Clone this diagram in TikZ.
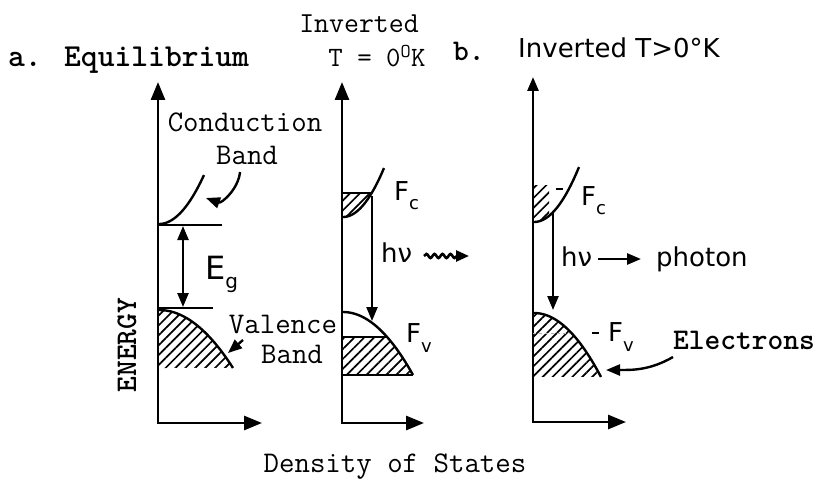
\documentclass[tikz,border=0pt]{standalone}
\usepackage{fontspec}
\newfontfamily\handfont{DejaVu Sans}
\usetikzlibrary{arrows.meta,patterns.meta,decorations.pathmorphing}
\begin{document}
\begin{tikzpicture}[x=1pt,y=-1pt,
  ax/.style={line width=2.8pt, arrows={Triangle[length=18pt,width=14pt]-Triangle[length=18pt,width=14pt]}},
  ln/.style={line width=2.4pt},
  thin/.style={line width=1.6pt},
  tip/.style={-{Triangle[length=14pt,width=11pt]}},
  dtip/.style={{Triangle[length=14pt,width=11pt]}-{Triangle[length=14pt,width=11pt]}},
  tw/.style={font=\ttfamily\fontsize{30}{32}\selectfont, inner sep=0pt},
  twb/.style={font=\ttfamily\bfseries\fontsize{30}{32}\selectfont, inner sep=0pt},
  hw/.style={font=\handfont\fontsize{26}{28}\selectfont, inner sep=0pt},
  hatch/.style={pattern={Lines[angle=45,distance=7pt,line width=1.7pt]}},
]
\useasboundingbox (0,0) rectangle (818,484);

% ---------- titles ----------
\node[twb, anchor=base west, font=\ttfamily\bfseries\fontsize{32}{34}\selectfont] (ta) at (8,67) {a. Equilibrium};
\node[tw, anchor=base, font=\ttfamily\fontsize{29}{30}\selectfont] (tinv) at (359,33) {Inverted};
\node[tw, anchor=base, font=\ttfamily\fontsize{28}{30}\selectfont] (tzero) at (377,67) {T = 0\textsuperscript{O}K};
\node[twb, anchor=base west] (tb) at (453,61) {b.};
\node[hw, anchor=base west] (tbt) at (518,58) {Inverted T>0°K};

% ---------- panel 1 : equilibrium ----------
\coordinate (t1) at (158,82);
\coordinate (o1) at (158,423);
\coordinate (r1) at (262,423);
\draw[ax] (t1) -- (o1) -- (r1);

\draw[ln] (159,224) plot[domain=0:1,samples=30,variable=\t] ({159+45*\t},{224-49*\t*\t});
\coordinate (ec1a) at (158,225);
\coordinate (ec1b) at (222,225);
\draw[ln] (ec1a) -- (ec1b);
\coordinate (ev1a) at (158,308);
\coordinate (ev1b) at (213,308);
\draw[ln] (ev1a) -- (ev1b);
\coordinate (eg1) at (183,226);
\coordinate (eg2) at (183,307);
\draw[ln,dtip] (eg1) -- (eg2);
\node[hw, font=\handfont\fontsize{32}{34}\selectfont, anchor=base west] (eg) at (205,279) {E\raisebox{-0.3em}{\fontsize{20}{20}\selectfont g}};

\fill[hatch] (159,310) plot[domain=0:1,samples=30,variable=\t] ({159+74*\t},{310+58*\t*\t}) -- (159,368) -- cycle;
\draw[ln] (159,310) plot[domain=0:1,samples=30,variable=\t] ({159+74*\t},{310+58*\t*\t});

\node[tw] (cond) at (245,122) {Conduction};
\node[tw] (cband) at (247,155) {Band};
\coordinate (ca1) at (240,172);
\coordinate (ca2) at (206,198);
\draw[ln,tip] (ca1) to[out=-95,in=-20] (ca2);

\node[tw] (val) at (283,324) {Valence};
\node[tw] (vband) at (292,354) {Band};
\coordinate (va1) at (243,340);
\coordinate (va2) at (228,353);
\draw[ln,tip] (va1) -- (va2);

\node[twb, rotate=90] (energy) at (127,345) {ENERGY};

% ---------- panel 2 : inverted T = 0 ----------
\coordinate (t2) at (342,82);
\coordinate (o2) at (342,423);
\coordinate (r2) at (424,423);
\draw[ax] (t2) -- (o2) -- (r2);

\begin{scope}
  \clip (342,193) rectangle (420,218);
  \fill[hatch] (343,217) plot[domain=0:1,samples=30,variable=\t] ({343+41*\t},{217-49*\t*\t}) -- (343,160) -- cycle;
\end{scope}
\coordinate (fc2a) at (342,193);
\coordinate (fc2b) at (371,193);
\draw[thin] (fc2a) -- (fc2b);
\draw[ln] (343,217) plot[domain=0:1,samples=30,variable=\t] ({343+41*\t},{217-49*\t*\t});

\coordinate (tr2a) at (372,196);
\coordinate (tr2b) at (372,321);
\draw[ln,tip] (tr2a) -- (tr2b);

\begin{scope}
  \clip (342,337) rectangle (420,376);
  \fill[hatch] (343,312) plot[domain=0:1,samples=30,variable=\t] ({343+70*\t},{312+63*\t*\t}) -- (343,376) -- cycle;
\end{scope}
\draw[ln] (343,312) plot[domain=0:1,samples=30,variable=\t] ({343+70*\t},{312+63*\t*\t});
\coordinate (fv2a) at (342,337);
\coordinate (fv2b) at (386,337);
\draw[thin] (fv2a) -- (fv2b);
\coordinate (bt2a) at (342,375);
\coordinate (bt2b) at (413,375);
\draw[thin] (bt2a) -- (bt2b);

\node[hw, anchor=base west] (fc2) at (394,200) {F\raisebox{-0.35em}{\fontsize{18}{18}\selectfont c}};
\node[hw, anchor=base west] (fv2) at (406,342) {F\raisebox{-0.4em}{\fontsize{18}{18}\selectfont v}};
\node[hw, anchor=base west] (hv2) at (381,262) {hν};
\coordinate (w2a) at (424,256);
\coordinate (w2b) at (469,256);
\draw[line width=2.6pt, decorate, decoration={snake,amplitude=2pt,segment length=8pt,post length=12pt}, -{Triangle[length=13pt,width=11pt]}] (w2a) -- (w2b);

% ---------- panel 3 : inverted T > 0 ----------
\coordinate (t3) at (533,77);
\coordinate (o3) at (533,422);
\coordinate (r3) at (626,422);
\draw[line width=2.8pt, arrows={Triangle[length=14pt,width=11pt]-Triangle[length=18pt,width=14pt]}] (t3) -- (o3) -- (r3);

\begin{scope}
  \clip (533,185) rectangle (549,224);
  \fill[hatch] (534,222) plot[domain=0:1,samples=30,variable=\t] ({534+45*\t},{222-55*\t*\t}) -- (534,160) -- cycle;
\end{scope}
\draw[ln] (534,222) plot[domain=0:1,samples=30,variable=\t] ({534+45*\t},{222-55*\t*\t});
\coordinate (tk3a) at (556,189);
\coordinate (tk3b) at (563,189);
\draw[thin] (tk3a) -- (tk3b);

\coordinate (tr3a) at (553,212);
\coordinate (tr3b) at (553,310);
\draw[ln,tip] (tr3a) -- (tr3b);

\fill[hatch] (534,313) plot[domain=0:1,samples=30,variable=\t] ({534+67*\t},{313+64*\t*\t}) -- (534,377) -- cycle;
\draw[ln] (534,313) plot[domain=0:1,samples=30,variable=\t] ({534+67*\t},{313+64*\t*\t});
\coordinate (fv3a) at (533,333);
\coordinate (fv3b) at (570,333);
\draw[gray!60, line width=0.8pt, dashed] (fv3a) -- (fv3b);
\coordinate (tk4a) at (592,333);
\coordinate (tk4b) at (599,333);
\draw[thin] (tk4a) -- (tk4b);

\node[hw, anchor=base west] (fc3) at (581,205) {F\raisebox{-0.35em}{\fontsize{18}{18}\selectfont c}};
\node[hw, anchor=base west] (fv3) at (608,341) {F\raisebox{-0.4em}{\fontsize{18}{18}\selectfont v}};
\node[hw, anchor=base west] (hv3) at (561,266) {hν};
\coordinate (p3a) at (598,259);
\coordinate (p3b) at (641,259);
\draw[line width=2.6pt, -{Triangle[length=14pt,width=11pt]}] (p3a) -- (p3b);
\node[hw, anchor=base west] (photon) at (656,266) {photon};

\node[twb] (elec) at (744,340) {Electrons};
\coordinate (el1) at (673,357);
\coordinate (el2) at (606,370);
\draw[ln,tip] (el1) to[out=-150,in=0] (el2);

% ---------- bottom label ----------
\node[tw] (dos) at (395,467) {Density of States};
\end{tikzpicture}
\end{document}
